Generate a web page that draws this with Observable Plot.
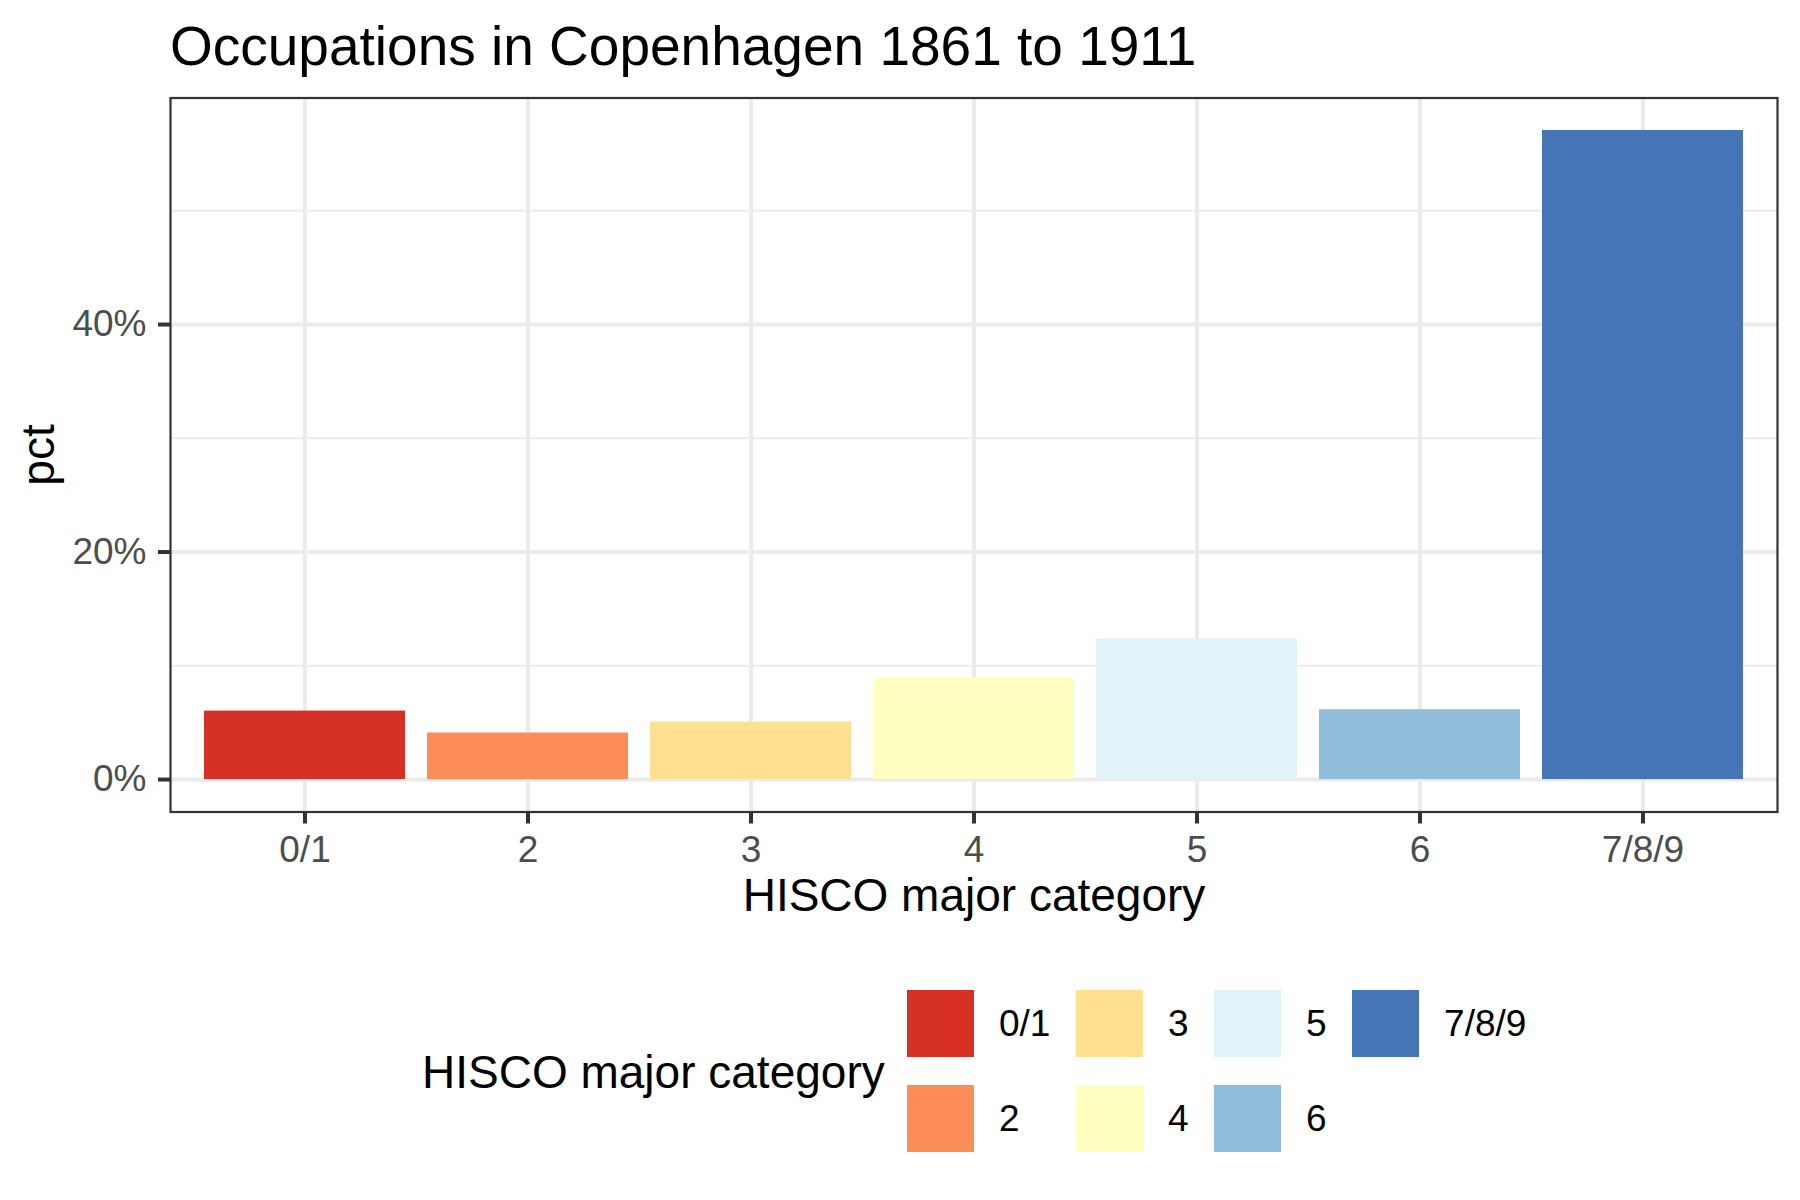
<!DOCTYPE html>
<html>
<head>
<meta charset="utf-8">
<script src="https://cdn.jsdelivr.net/npm/d3@7"></script>
<script src="https://cdn.jsdelivr.net/npm/@observablehq/plot@0.6"></script>
<style>
  html, body { margin: 0; padding: 0; background: white; }
  #root { position: relative; width: 1800px; height: 1200px; background: white; font-family: 'Liberation Sans', Arial, sans-serif; overflow: hidden; }
  #title { position: absolute; left: 170px; top: 19px; font-size: 55px; line-height: 55px; color: #000; white-space: nowrap; }
  #chart { position: absolute; left: 0; top: 80px; }
  #legendTitle { position: absolute; left: 422px; top: 1049px; font-size: 46px; line-height: 46px; color: #000; white-space: nowrap; }
  #legend { position: absolute; left: 907px; top: 990px; display: grid; grid-template-rows: 67px 67px; grid-auto-flow: column; row-gap: 28px; column-gap: 25.5px; }
  .item { display: flex; align-items: center; }
  .swatch { width: 67px; height: 67px; margin-right: 25px; }
  .lab { font-size: 37px; line-height: 37px; color: #000; white-space: nowrap; }
</style>
</head>
<body>
<div id="root">
  <div id="title">Occupations in Copenhagen 1861 to 1911</div>
  <div id="chart"></div>
  <div id="legendTitle">HISCO major category</div>
  <div id="legend"></div>
</div>
<script>
const categories = ["0/1", "2", "3", "4", "5", "6", "7/8/9"];
const pct = [6.02, 4.09, 5.05, 8.95, 12.37, 6.14, 57.06];
const colors = ["#d73027", "#fc8d59", "#fee090", "#ffffbf", "#e0f3f8", "#91bfdb", "#4575b4"];
const yMajorTicks = [0, 20, 40];
const yMinorTicks = [10, 30, 50];
const xTitle = "HISCO major category";
const yTitle = "pct";

const data = categories.map((c, i) => ({cat: c, pct: pct[i]}));
const maxV = d3.max(pct);

const chart = Plot.plot({
  width: 1800,
  height: 880,
  marginTop: 17.5,
  marginBottom: 148.5,
  marginLeft: 170,
  marginRight: 23,
  style: {fontFamily: "'Liberation Sans', Arial, sans-serif", background: "white", overflow: "visible"},
  x: {domain: categories, paddingInner: 0.1, paddingOuter: 0.15, label: null},
  y: {domain: [-0.05 * maxV, 1.05 * maxV], label: null},
  color: {domain: categories, range: colors},
  marks: [
    Plot.gridY(yMinorTicks, {stroke: "#EBEBEB", strokeOpacity: 1, strokeWidth: 2}),
    Plot.gridY(yMajorTicks, {stroke: "#EBEBEB", strokeOpacity: 1, strokeWidth: 4}),
    Plot.gridX(categories, {stroke: "#EBEBEB", strokeOpacity: 1, strokeWidth: 4}),
    Plot.barY(data, {x: "cat", y: "pct", fill: "cat", inset: 0}),
    Plot.axisX({tickSize: 12, tickPadding: 12, fontSize: 37, stroke: "#333333", strokeWidth: 4, fill: "#4D4D4D", label: null}),
    Plot.axisY(yMajorTicks, {tickSize: 12, tickPadding: 12, fontSize: 37, stroke: "#333333", strokeWidth: 4, fill: "#4D4D4D", tickFormat: d => d + "%", label: null}),
    Plot.frame({stroke: "#333333", strokeWidth: 2.2}),
    Plot.text([xTitle], {text: d => d, frameAnchor: "bottom", textAnchor: "middle", lineAnchor: "middle", dy: 84, fontSize: 46, fill: "black"}),
    Plot.text([yTitle], {text: d => d, frameAnchor: "left", textAnchor: "middle", lineAnchor: "middle", rotate: -90, dx: -131, fontSize: 46, fill: "black"})
  ]
});
document.getElementById("chart").appendChild(chart);

const legend = document.getElementById("legend");
categories.forEach((c, i) => {
  const item = document.createElement("div");
  item.className = "item";
  const sw = document.createElement("div");
  sw.className = "swatch";
  sw.style.background = colors[i];
  const lab = document.createElement("div");
  lab.className = "lab";
  lab.textContent = c;
  item.appendChild(sw);
  item.appendChild(lab);
  legend.appendChild(item);
});
</script>
</body>
</html>
